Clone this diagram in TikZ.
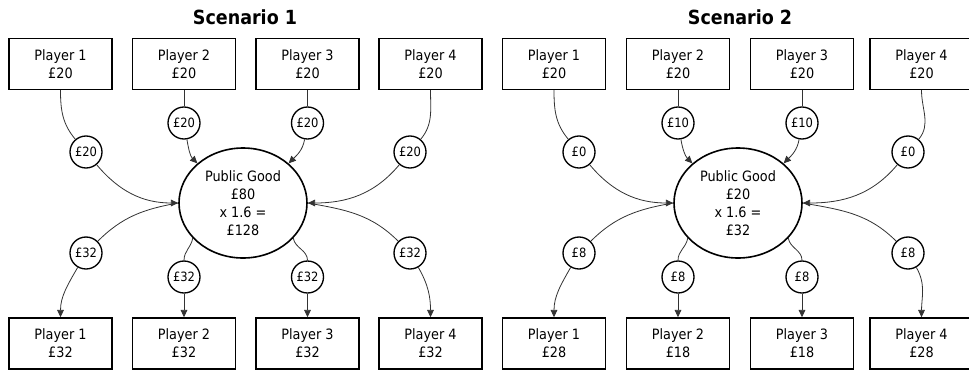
\documentclass[tikz,border=0pt]{standalone}
\usepackage{fontspec}
\setmainfont{DejaVu Sans}[FakeStretch=0.9]
\usetikzlibrary{arrows.meta,shapes.geometric}
\begin{document}
\begin{tikzpicture}[x=0.75pt,y=0.75pt,
  player/.style={draw,line width=1.1pt,minimum width=77.25pt,minimum height=38.25pt,inner sep=0pt,align=center,font=\fontsize{10.7}{13.5}\selectfont},
  amt/.style={draw,circle,line width=1pt,minimum size=24pt,inner sep=0pt,font=\fontsize{9.6}{11}\selectfont},
  pg/.style={draw,ellipse,line width=1.2pt,minimum width=96pt,minimum height=82.5pt,inner sep=0pt,align=center,font=\fontsize{10.7}{13.5}\selectfont},
  title/.style={font=\fontsize{14.6}{16}\selectfont\bfseries},
  link/.style={draw=black!80,line width=0.6pt},
  arr/.style={link,-{Triangle[length=5.5pt,width=5pt]}}
]
\useasboundingbox (0,0) rectangle (969,-371);

% ---------------- Scenario 1 ----------------
\node[title] (t1) at (245,-17) {Scenario 1};
\node[player] (a1) at (60.5,-64) {Player 1\\£20};
\node[player] (a2) at (184,-64) {Player 2\\£20};
\node[player] (a3) at (307.5,-64) {Player 3\\£20};
\node[player] (a4) at (430.5,-64) {Player 4\\£20};
\node[pg] (apg) at (243,-203) {Public Good\\£80\\x 1.6 =\\£128};
\node[amt] (at1) at (86,-152) {£20};
\node[amt] (at2) at (184,-123) {£20};
\node[amt] (at3) at (307.5,-123) {£20};
\node[amt] (at4) at (410,-152) {£20};
\node[amt] (ab1) at (86,-253) {£32};
\node[amt] (ab2) at (184,-277) {£32};
\node[amt] (ab3) at (307.5,-277) {£32};
\node[amt] (ab4) at (410,-253) {£32};
\node[player] (ay1) at (60.5,-343.5) {Player 1\\£32};
\node[player] (ay2) at (184,-343.5) {Player 2\\£32};
\node[player] (ay3) at (307.5,-343.5) {Player 3\\£32};
\node[player] (ay4) at (430.5,-343.5) {Player 4\\£32};

\draw[link] (a1) to[out=-90,in=130] (at1);
\draw[arr] (at1) to[out=-50,in=180] (apg);
\draw[link] (a2) -- (at2);
\draw[arr] (at2) to[out=-80,in=135] (apg.139);
\draw[link] (a3) -- (at3);
\draw[arr] (at3) to[out=-100,in=45] (apg.41);
\draw[link] (a4) to[out=-90,in=50] (at4);
\draw[arr] (at4) to[out=-130,in=0] (apg);
\draw[link] (apg.180) to[out=190,in=45] (ab1);
\draw[arr] (ab1) to[out=-120,in=90] (ay1);
\draw[link] (apg.-145) to[out=-100,in=90] (ab2);
\draw[arr] (ab2) -- (ay2);
\draw[link] (apg.-35) to[out=-80,in=90] (ab3);
\draw[arr] (ab3) -- (ay3);
\draw[link] (apg.0) to[out=-10,in=135] (ab4);
\draw[arr] (ab4) to[out=-60,in=90] (ay4);

% ---------------- Scenario 2 ----------------
\node[title] (t2) at (740,-17) {Scenario 2};
\node[player] (b1) at (554,-64) {Player 1\\£20};
\node[player] (b2) at (678,-64) {Player 2\\£20};
\node[player] (b3) at (802,-64) {Player 3\\£20};
\node[player] (b4) at (921.5,-64) {Player 4\\£20};
\node[pg] (bpg) at (738,-203) {Public Good\\£20\\x 1.6 =\\£32};
\node[amt] (bt1) at (579,-152) {£0};
\node[amt] (bt2) at (678,-123) {£10};
\node[amt] (bt3) at (802,-123) {£10};
\node[amt] (bt4) at (908,-152) {£0};
\node[amt] (bb1) at (579,-253) {£8};
\node[amt] (bb2) at (678,-277) {£8};
\node[amt] (bb3) at (802,-277) {£8};
\node[amt] (bb4) at (908,-253) {£8};
\node[player] (by1) at (554,-343.5) {Player 1\\£28};
\node[player] (by2) at (678,-343.5) {Player 2\\£18};
\node[player] (by3) at (802,-343.5) {Player 3\\£18};
\node[player] (by4) at (921.5,-343.5) {Player 4\\£28};

\draw[link] (b1) to[out=-90,in=130] (bt1);
\draw[arr] (bt1) to[out=-50,in=180] (bpg);
\draw[link] (b2) -- (bt2);
\draw[arr] (bt2) to[out=-80,in=135] (bpg.139);
\draw[link] (b3) -- (bt3);
\draw[arr] (bt3) to[out=-100,in=45] (bpg.41);
\draw[link] (b4) to[out=-90,in=50] (bt4);
\draw[arr] (bt4) to[out=-130,in=0] (bpg);
\draw[link] (bpg.180) to[out=190,in=45] (bb1);
\draw[arr] (bb1) to[out=-120,in=90] (by1);
\draw[link] (bpg.-145) to[out=-100,in=90] (bb2);
\draw[arr] (bb2) -- (by2);
\draw[link] (bpg.-35) to[out=-80,in=90] (bb3);
\draw[arr] (bb3) -- (by3);
\draw[link] (bpg.0) to[out=-10,in=135] (bb4);
\draw[arr] (bb4) to[out=-60,in=90] (by4);
\end{tikzpicture}
\end{document}
